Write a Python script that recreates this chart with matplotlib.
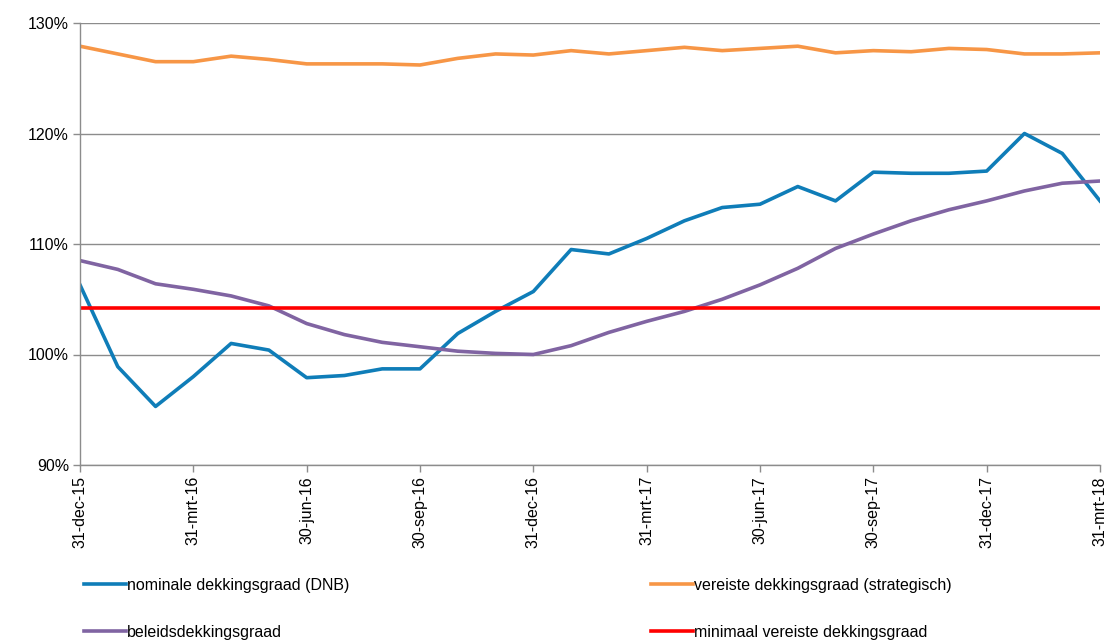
import numpy as np
import matplotlib
matplotlib.use("Agg")
import matplotlib.pyplot as plt
from matplotlib.ticker import FuncFormatter

plt.rcParams['font.family'] = ['Liberation Sans', 'DejaVu Sans']

# month-end values, 31-dec-15 .. 31-mrt-18
nominaal = [106.3, 98.9, 95.3, 98.0, 101.0, 100.4, 97.9, 98.1, 98.7, 98.7,
            101.9, 103.9, 105.7, 109.5, 109.1, 110.5, 112.1, 113.3, 113.6,
            115.2, 113.9, 116.5, 116.4, 116.4, 116.6, 120.0, 118.2, 113.9]
vereist = [127.9, 127.2, 126.5, 126.5, 127.0, 126.7, 126.3, 126.3, 126.3, 126.2,
           126.8, 127.2, 127.1, 127.5, 127.2, 127.5, 127.8, 127.5, 127.7,
           127.9, 127.3, 127.5, 127.4, 127.7, 127.6, 127.2, 127.2, 127.3]
beleid = [108.5, 107.7, 106.4, 105.9, 105.3, 104.4, 102.8, 101.8, 101.1, 100.7,
          100.3, 100.1, 100.0, 100.8, 102.0, 103.0, 103.9, 105.0, 106.3,
          107.8, 109.6, 110.9, 112.1, 113.1, 113.9, 114.8, 115.5, 115.7]
minimaal = 104.2

tick_labels = ['31-dec-15', '31-mrt-16', '30-jun-16', '30-sep-16', '31-dec-16',
               '31-mrt-17', '30-jun-17', '30-sep-17', '31-dec-17', '31-mrt-18']

x = np.arange(len(nominaal))

fig = plt.figure(figsize=(11.1, 6.44), dpi=100)
ax = fig.add_axes([80 / 1110, 1 - 465 / 644, 1020 / 1110, 442 / 644])

lw = 2.6
l1, = ax.plot(x, nominaal, color='#0F7DB8', lw=lw, label='nominale dekkingsgraad (DNB)')
l2, = ax.plot(x, vereist, color='#F79646', lw=lw, label='vereiste dekkingsgraad (strategisch)')
l3, = ax.plot(x, beleid, color='#8064A2', lw=lw, label='beleidsdekkingsgraad')
l4, = ax.plot(x, [minimaal] * len(x), color='#FF0000', lw=lw, label='minimaal vereiste dekkingsgraad')

ax.set_xlim(0, len(x) - 1)
ax.set_ylim(90, 130)
ax.set_yticks([90, 100, 110, 120, 130])
ax.yaxis.set_major_formatter(FuncFormatter(lambda v, p: f'{v:.0f}%'))
ax.set_xticks(x[::3])
ax.set_xticklabels(tick_labels, rotation=90)

ax.grid(axis='y', color='#8C8C8C', lw=1)
ax.set_axisbelow(True)
for s in ['top', 'right']:
    ax.spines[s].set_visible(False)
for s in ['left', 'bottom']:
    ax.spines[s].set_color('#8C8C8C')
    ax.spines[s].set_linewidth(1)
ax.tick_params(axis='both', colors='#8C8C8C', labelcolor='black', labelsize=11.5, length=5, width=1)
ax.tick_params(axis='y', pad=3)
ax.tick_params(axis='x', pad=3)

# legend fills column by column, so order handles to get the rows right
handles = [l1, l3, l2, l4]
fig.legend(handles, [h.get_label() for h in handles],
           loc='upper left', bbox_to_anchor=(76 / 1110, 1 - 570 / 644), ncol=2,
           frameon=False, fontsize=11.5, handlelength=2.6, handletextpad=0.1,
           labelspacing=2.0, columnspacing=18.9, borderpad=0)

fig.savefig('out.png', dpi=100)
